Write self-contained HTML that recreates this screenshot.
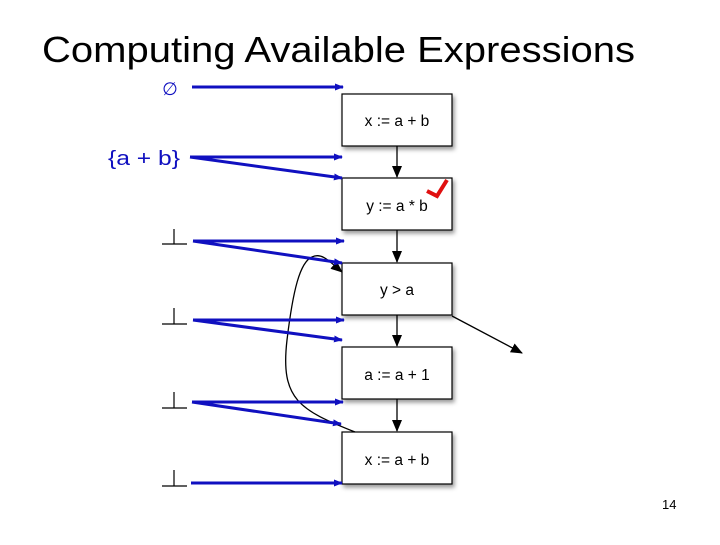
<!DOCTYPE html>
<html><head><style>
body{margin:0;background:#fff;width:720px;height:540px;overflow:hidden;font-family:"Liberation Sans",sans-serif}
</style></head><body>
<svg width="720" height="540" xmlns="http://www.w3.org/2000/svg" font-family="Liberation Sans, sans-serif">
<defs>
<marker id="bl" markerWidth="9" markerHeight="9" refX="8" refY="4.5" orient="auto" markerUnits="userSpaceOnUse"><path d="M0,1 L9,4.5 L0,8z" fill="#1010c0"/></marker>
<marker id="bk" markerWidth="12" markerHeight="12" refX="11" refY="6" orient="auto" markerUnits="userSpaceOnUse"><path d="M0,1 L12,6 L0,11z" fill="#000"/></marker>
<filter id="sh"><feDropShadow dx="2" dy="3" stdDeviation="2" flood-opacity="0.4"/></filter>
</defs>
<text x="42" y="62" font-size="36" fill="#000" textLength="593" lengthAdjust="spacingAndGlyphs">Computing Available Expressions</text>
<g fill="#fff" stroke="#000" stroke-width="1.2" filter="url(#sh)">
<rect x="342" y="94" width="110" height="52"/>
<rect x="342" y="178" width="110" height="52"/>
<rect x="342" y="263" width="110" height="52"/>
<rect x="342" y="347" width="110" height="52"/>
<rect x="342" y="432" width="110" height="52"/>
</g>
<g font-size="15.5" text-anchor="middle" fill="#000">
<text x="397" y="126">x := a + b</text>
<text x="397" y="211">y := a * b</text>
<text x="397" y="295">y &gt; a</text>
<text x="397" y="380">a := a + 1</text>
<text x="397" y="465">x := a + b</text>
</g>
<g stroke="#000" stroke-width="1.3" marker-end="url(#bk)">
<line x1="397" y1="146" x2="397" y2="177"/>
<line x1="397" y1="230" x2="397" y2="262"/>
<line x1="397" y1="315" x2="397" y2="346"/>
<line x1="397" y1="399" x2="397" y2="431"/>
<line x1="452" y1="316" x2="522" y2="353"/>
<path d="M355,432 C300,410 280,400 287,340 C293,290 300,262 312,257 C322,252 330,262 342,272" fill="none"/>
</g>
<path d="M427,191 L437,196 L447,180" stroke="#e01010" stroke-width="4" fill="none"/>
<g stroke="#1010c0" stroke-width="3" marker-end="url(#bl)">
<line x1="192" y1="87" x2="343" y2="87"/>
<line x1="190" y1="157" x2="342" y2="157"/>
<line x1="190" y1="157" x2="342" y2="178"/>
<line x1="193" y1="241" x2="344" y2="241"/>
<line x1="193" y1="241" x2="342" y2="263"/>
<line x1="193" y1="320" x2="344" y2="320"/>
<line x1="193" y1="320" x2="342" y2="340"/>
<line x1="192" y1="402" x2="343" y2="402"/>
<line x1="192" y1="402" x2="341" y2="424"/>
<line x1="191" y1="483" x2="342" y2="483"/>
</g>
<text x="170" y="95" font-size="18" fill="#1010c0" text-anchor="middle">∅</text>
<text x="108" y="165" font-size="20" fill="#1010c0" textLength="72" lengthAdjust="spacingAndGlyphs">{a + b}</text>
<g stroke="#000" stroke-width="1.2">
<line x1="162" y1="244" x2="187" y2="244"/><line x1="174" y1="229" x2="174" y2="244"/>
<line x1="162" y1="324" x2="187" y2="324"/><line x1="174" y1="308" x2="174" y2="324"/>
<line x1="162" y1="408" x2="187" y2="408"/><line x1="174" y1="392" x2="174" y2="408"/>
<line x1="162" y1="486" x2="187" y2="486"/><line x1="174" y1="470" x2="174" y2="486"/>
</g>
<text x="662" y="509" font-size="13" fill="#000">14</text>
</svg>
</body></html>
